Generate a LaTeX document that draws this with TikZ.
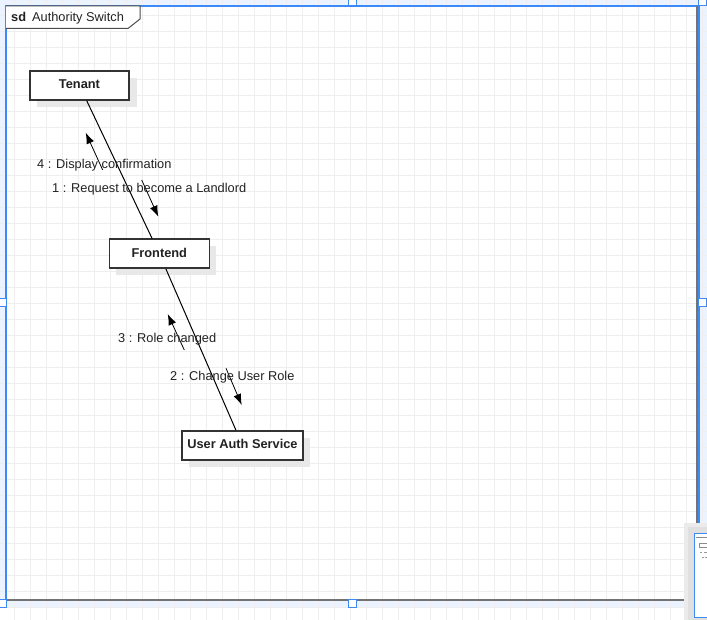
\documentclass[tikz,border=0pt]{standalone}
\usepackage{fontspec}
\setmainfont{Liberation Sans}
\usetikzlibrary{arrows.meta}
\definecolor{gridc}{HTML}{EEEEEE}
\definecolor{selblue}{HTML}{3D8AF7}
\definecolor{bandc}{HTML}{EAF3FF}
\definecolor{shadowc}{HTML}{E8E8E8}
\definecolor{txt}{HTML}{222222}
\newcommand{\diafont}{\fontsize{12.8}{15}\selectfont}
\tikzset{
  lifebox/.style={draw=black!80, line width=1.4pt, fill=white, minimum height=29pt,
    font=\diafont\bfseries, text=txt, inner sep=0pt},
  link/.style={draw=black, line width=1pt},
  msg/.style={draw=black, line width=0.8pt, -{Latex[length=11pt,width=8pt]}},
  msglabel/.style={anchor=west, font=\diafont, text=txt, inner sep=0pt},
  handle/.style={draw=selblue, fill=white, line width=1pt},
}
\begin{document}
\begin{tikzpicture}[x=1pt,y=-1pt]
\useasboundingbox (0,0) rectangle (707,620);
\fill[white] (0,0) rectangle (707,620);
% selection band
\fill[bandc, even odd rule] (0,0) rectangle (707,607) (6,6) rectangle (700,600);
% grid
\foreach \i in {0,...,44} { \draw[gridc, line width=1pt] (14+16*\i,0) -- (14+16*\i,620); }
\foreach \j in {0,...,38} { \draw[gridc, line width=1pt] (0,15.5+16*\j) -- (707,15.5+16*\j); }
% frame
\draw[selblue, line width=1.3pt] (6,6) rectangle (699,600);
\draw[black!55, line width=2pt] (697,6) -- (697,599.5) -- (6,599.5);
\draw[black!70, line width=1pt, fill=white] (6,6) -- (140,6) -- (140,19) -- (128,28.5) -- (6,28.5);
\node[anchor=base west, font=\diafont, text=txt, inner sep=0pt] (sdlabel) at (11,22) {\textbf{sd}\hspace{6pt}Authority Switch};
% handles
\draw[handle] (348,-2) rectangle (356,6);
\draw[handle] (698,-2) rectangle (706,6);
\draw[handle] (-2,299) rectangle (6,307);
\draw[handle] (698,299) rectangle (706,307);
\draw[handle] (348,599) rectangle (356,607);
\draw[handle] (-2,599) rectangle (6,607);
% shadows
\fill[shadowc] (37,78) rectangle (137,107);
\fill[shadowc] (116,246) rectangle (216,275);
\fill[shadowc] (189,438) rectangle (310,467);
% lifelines
\node[lifebox, minimum width=99pt] (tenant) at (79.5,85.5) {\raisebox{2pt}{Tenant}};
\node[lifebox, minimum width=100pt] (frontend) at (159.3,253.7) {\raisebox{2pt}{Frontend}};
\node[lifebox, minimum width=121pt] (uas) at (242.5,445.3) {\raisebox{2pt}{User Auth Service}};
\draw[link] (tenant) -- (frontend);
\draw[link] (frontend) -- (uas);
% messages
\coordinate (m1a) at (141.7,180); \coordinate (m1b) at (158.3,216.7);
\coordinate (m4a) at (102.7,170); \coordinate (m4b) at (85.7,132.7);
\coordinate (m3a) at (184.3,350); \coordinate (m3b) at (167.7,314);
\coordinate (m2a) at (226,368.3); \coordinate (m2b) at (241.7,405);
\draw[msg] (m1a) -- (m1b);
\draw[msg] (m4a) -- (m4b);
\draw[msg] (m3a) -- (m3b);
\draw[msg] (m2a) -- (m2b);
\node[msglabel] (l4) at (37,165) {4 : Display confirmation};
\node[msglabel] (l1) at (52,189) {1 : Request to become a Landlord};
\node[msglabel] (l3) at (118,339) {3 : Role changed};
\node[msglabel] (l2) at (170,377) {2 : Change User Role};
% minimap popup
\fill[black!8] (684,523) rectangle (707,620);
\fill[black!12] (688,527) rectangle (707,620);
\draw[selblue, line width=1pt, fill=white] (694.5,533.5) rectangle (710,617);
\draw[black!45, line width=0.8pt] (696,537) -- (707,537);
\draw[black!45, line width=0.6pt] (699,543) rectangle (710,547);
\draw[black!40, line width=0.6pt] (700,552) -- (702,552) (704,552) -- (707,552);
\draw[black!40, line width=0.6pt] (702,557) -- (704,557) (705,557) -- (707,557);
\end{tikzpicture}
\end{document}
